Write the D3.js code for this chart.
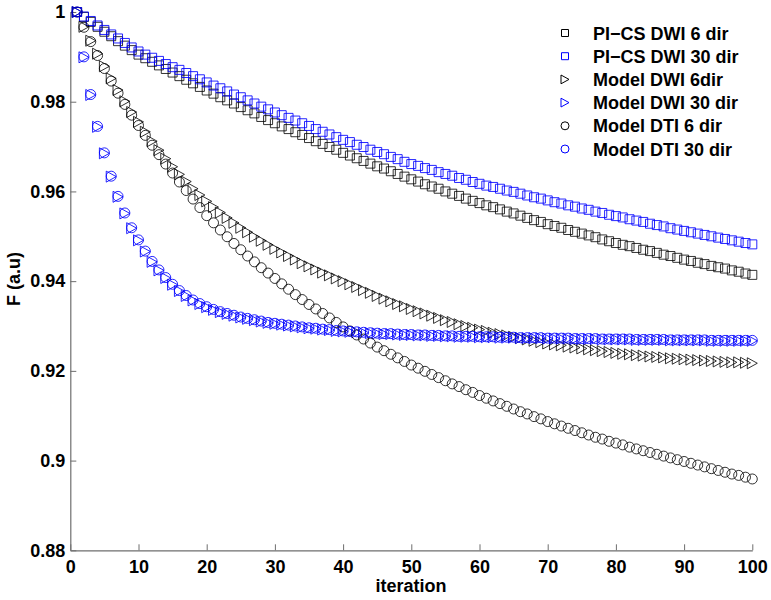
<!DOCTYPE html>
<html>
<head>
<meta charset="utf-8">
<script src="https://cdn.jsdelivr.net/npm/d3@7"></script>
<style>
  html, body { margin: 0; padding: 0; background: #fff; }
  svg { display: block; font-family: "Liberation Sans", Arial, Helvetica, sans-serif; }
</style>
</head>
<body>
<svg id="chart" width="771" height="600"></svg>
<script>
const iterations = d3.range(1, 101);

const piCs6 = [
1.0000,0.9989,0.9978,0.9967,0.9956,0.9946,0.9935,0.9925,0.9915,0.9905,
0.9897,0.9889,0.9881,0.9873,0.9865,0.9857,0.9849,0.9841,0.9833,0.9825,
0.9818,0.9810,0.9803,0.9796,0.9788,0.9781,0.9774,0.9766,0.9759,0.9752,
0.9745,0.9739,0.9732,0.9726,0.9719,0.9712,0.9706,0.9699,0.9693,0.9686,
0.9680,0.9674,0.9668,0.9662,0.9656,0.9651,0.9645,0.9639,0.9633,0.9627,
0.9622,0.9616,0.9611,0.9606,0.9600,0.9595,0.9590,0.9584,0.9579,0.9574,
0.9569,0.9565,0.9560,0.9555,0.9551,0.9546,0.9541,0.9536,0.9532,0.9527,
0.9523,0.9519,0.9514,0.9510,0.9506,0.9502,0.9498,0.9493,0.9489,0.9485,
0.9481,0.9478,0.9474,0.9470,0.9467,0.9463,0.9459,0.9456,0.9452,0.9448,
0.9445,0.9441,0.9438,0.9434,0.9431,0.9428,0.9424,0.9421,0.9417,0.9414];

const piCs30 = [
1.0000,0.9990,0.9980,0.9970,0.9960,0.9950,0.9941,0.9931,0.9921,0.9912,
0.9905,0.9898,0.9891,0.9884,0.9877,0.9871,0.9864,0.9857,0.9850,0.9843,
0.9836,0.9830,0.9823,0.9816,0.9810,0.9803,0.9796,0.9789,0.9783,0.9776,
0.9770,0.9764,0.9758,0.9752,0.9746,0.9739,0.9733,0.9727,0.9721,0.9715,
0.9710,0.9704,0.9699,0.9693,0.9688,0.9683,0.9677,0.9672,0.9666,0.9661,
0.9657,0.9652,0.9648,0.9643,0.9639,0.9635,0.9630,0.9626,0.9621,0.9617,
0.9613,0.9610,0.9606,0.9602,0.9599,0.9595,0.9591,0.9587,0.9584,0.9580,
0.9576,0.9573,0.9569,0.9566,0.9562,0.9559,0.9555,0.9552,0.9548,0.9545,
0.9542,0.9538,0.9535,0.9532,0.9528,0.9525,0.9522,0.9518,0.9515,0.9512,
0.9509,0.9506,0.9503,0.9500,0.9497,0.9494,0.9491,0.9488,0.9485,0.9482];

const modelDwi6 = [
1.0000,0.9967,0.9936,0.9907,0.9879,0.9852,0.9826,0.9801,0.9777,0.9755,
0.9733,0.9712,0.9692,0.9673,0.9655,0.9638,0.9622,0.9606,0.9592,0.9578,
0.9565,0.9553,0.9541,0.9530,0.9519,0.9509,0.9499,0.9490,0.9481,0.9472,
0.9464,0.9456,0.9448,0.9440,0.9433,0.9426,0.9419,0.9413,0.9406,0.9400,
0.9393,0.9387,0.9380,0.9374,0.9367,0.9361,0.9355,0.9349,0.9344,0.9338,
0.9333,0.9328,0.9323,0.9318,0.9313,0.9309,0.9304,0.9300,0.9296,0.9292,
0.9289,0.9285,0.9282,0.9279,0.9276,0.9273,0.9270,0.9267,0.9264,0.9261,
0.9259,0.9257,0.9254,0.9252,0.9250,0.9248,0.9246,0.9244,0.9242,0.9240,
0.9238,0.9237,0.9235,0.9234,0.9232,0.9231,0.9230,0.9228,0.9227,0.9226,
0.9225,0.9224,0.9223,0.9222,0.9221,0.9220,0.9219,0.9219,0.9218,0.9217];

const modelDwi30 = [
1.0000,0.9899,0.9815,0.9744,0.9685,0.9633,0.9588,0.9551,0.9518,0.9491,
0.9466,0.9443,0.9424,0.9407,0.9392,0.9378,0.9367,0.9357,0.9349,0.9342,
0.9336,0.9331,0.9327,0.9323,0.9319,0.9316,0.9313,0.9310,0.9307,0.9305,
0.9303,0.9301,0.9299,0.9297,0.9295,0.9294,0.9292,0.9291,0.9289,0.9288,
0.9287,0.9286,0.9285,0.9284,0.9283,0.9282,0.9282,0.9281,0.9280,0.9280,
0.9279,0.9279,0.9278,0.9278,0.9277,0.9277,0.9276,0.9276,0.9276,0.9275,
0.9275,0.9275,0.9274,0.9274,0.9274,0.9273,0.9273,0.9273,0.9273,0.9272,
0.9272,0.9272,0.9272,0.9271,0.9271,0.9271,0.9271,0.9270,0.9270,0.9270,
0.9270,0.9270,0.9269,0.9269,0.9269,0.9269,0.9269,0.9268,0.9268,0.9268,
0.9268,0.9268,0.9268,0.9267,0.9267,0.9267,0.9267,0.9267,0.9267,0.9267];

const modelDti6 = [
1.0000,0.9966,0.9934,0.9903,0.9874,0.9846,0.9819,0.9794,0.9770,0.9747,
0.9725,0.9703,0.9682,0.9661,0.9641,0.9621,0.9602,0.9583,0.9564,0.9546,
0.9530,0.9514,0.9499,0.9484,0.9470,0.9456,0.9443,0.9430,0.9418,0.9406,
0.9394,0.9382,0.9370,0.9359,0.9348,0.9338,0.9328,0.9318,0.9308,0.9298,
0.9289,0.9280,0.9271,0.9262,0.9253,0.9245,0.9237,0.9229,0.9221,0.9213,
0.9206,0.9199,0.9192,0.9185,0.9178,0.9171,0.9165,0.9158,0.9152,0.9145,
0.9139,0.9133,0.9127,0.9121,0.9115,0.9109,0.9104,0.9098,0.9093,0.9087,
0.9082,0.9077,0.9072,0.9067,0.9062,0.9057,0.9052,0.9048,0.9043,0.9039,
0.9035,0.9030,0.9026,0.9022,0.9018,0.9014,0.9010,0.9006,0.9002,0.8998,
0.8994,0.8990,0.8986,0.8982,0.8978,0.8974,0.8970,0.8967,0.8963,0.8959];

const modelDti30 = [
1.0000,0.9900,0.9816,0.9745,0.9686,0.9634,0.9589,0.9552,0.9519,0.9492,
0.9467,0.9444,0.9425,0.9408,0.9393,0.9379,0.9368,0.9358,0.9350,0.9343,
0.9337,0.9332,0.9328,0.9324,0.9320,0.9317,0.9314,0.9311,0.9308,0.9306,
0.9304,0.9302,0.9300,0.9298,0.9296,0.9295,0.9293,0.9292,0.9290,0.9289,
0.9288,0.9287,0.9286,0.9285,0.9284,0.9283,0.9283,0.9282,0.9281,0.9281,
0.9280,0.9280,0.9279,0.9279,0.9278,0.9278,0.9277,0.9277,0.9277,0.9276,
0.9276,0.9276,0.9275,0.9275,0.9275,0.9274,0.9274,0.9274,0.9274,0.9273,
0.9273,0.9273,0.9273,0.9272,0.9272,0.9272,0.9272,0.9271,0.9271,0.9271,
0.9271,0.9271,0.9270,0.9270,0.9270,0.9270,0.9270,0.9269,0.9269,0.9269,
0.9269,0.9269,0.9269,0.9268,0.9268,0.9268,0.9268,0.9268,0.9268,0.9268];

const seriesNames = ["PI\u2212CS DWI 6 dir", "PI\u2212CS DWI 30 dir", "Model DWI 6dir", "Model DWI 30 dir", "Model DTI 6 dir", "Model DTI 30 dir"];
const seriesValues = [piCs6, piCs30, modelDwi6, modelDwi30, modelDti6, modelDti30];
const seriesColors = ["#000000", "#0000ff", "#000000", "#0000ff", "#000000", "#0000ff"];
const seriesMarkers = ["square", "square", "triangle", "triangle", "circle", "circle"];

const xTicks = [0, 10, 20, 30, 40, 50, 60, 70, 80, 90, 100];
const yTicks = [0.88, 0.9, 0.92, 0.94, 0.96, 0.98, 1];
const xLabel = "iteration";
const yLabel = "F (a.u)";

const svg = d3.select("#chart");
const x = d3.scaleLinear().domain([0, 100]).range([70.3, 752.3]);
const y = d3.scaleLinear().domain([0.88, 1]).range([550.3, 12]);

function circlePath(r) {
  return `M${r},0A${r},${r} 0 1,1 ${-r},0A${r},${r} 0 1,1 ${r},0Z`;
}
function shape(type, s) {
  const h = s / 2;
  if (type === "square") return `M${-h},${-h}H${h}V${h}H${-h}Z`;
  if (type === "triangle") return `M${-h},${-h * 1.1}L${h},0L${-h},${h * 1.1}Z`;
  return circlePath(h);
}

// axes
const xAxis = d3.axisBottom(x).tickValues(xTicks).tickSizeInner(-6).tickSizeOuter(0).tickPadding(10)
  .tickFormat(d3.format("d"));
const yAxis = d3.axisLeft(y).tickValues(yTicks).tickSizeInner(-6).tickSizeOuter(0).tickPadding(5)
  .tickFormat(d => String(+d.toFixed(2)));

const gx = svg.append("g").attr("transform", `translate(0,${y(0.88)})`).call(xAxis);
const gy = svg.append("g").attr("transform", `translate(${x(0)},0)`).call(yAxis);
[gx, gy].forEach(g => {
  g.select(".domain").attr("stroke", "#6e6e6e").attr("stroke-width", 1.2);
  g.selectAll(".tick line").attr("stroke", "#6e6e6e").attr("stroke-width", 1);
  g.selectAll(".tick text").attr("fill", "#000").style("font-size", "18px").style("font-weight", "bold")
    .style("font-family", "'Liberation Sans', Arial, sans-serif");
});

// axis labels
svg.append("text").attr("x", 411).attr("y", 592).attr("text-anchor", "middle")
  .style("font-size", "18px").style("font-weight", "bold").text(xLabel);
svg.append("text").attr("transform", "translate(20,279) rotate(-90)").attr("text-anchor", "middle")
  .style("font-size", "18px").style("font-weight", "bold").text(yLabel);

// series
const plot = svg.append("g");
seriesValues.forEach((vals, k) => {
  const size = seriesMarkers[k] === "square" ? 9 : 10;
  plot.append("g").selectAll("path").data(vals).join("path")
    .attr("transform", (d, i) => `translate(${x(iterations[i])},${y(d)})`)
    .attr("d", shape(seriesMarkers[k], size))
    .attr("fill", "none")
    .attr("stroke", seriesColors[k])
    .attr("stroke-opacity", seriesColors[k] === "#000000" ? 0.8 : 0.85)
    .attr("stroke-width", 1);
});

// legend
const legend = svg.append("g");
seriesNames.forEach((name, k) => {
  const cy = 33 + k * 23.2;
  const size = seriesMarkers[k] === "square" ? 7 : 8;
  legend.append("path").attr("transform", `translate(565,${cy})`)
    .attr("d", shape(seriesMarkers[k], size))
    .attr("fill", "none").attr("stroke", seriesColors[k]).attr("stroke-width", 1);
  legend.append("text").attr("x", 593).attr("y", cy + 6.5)
    .style("font-size", "18px").style("font-weight", "bold").text(name);
});
</script>
</body>
</html>
